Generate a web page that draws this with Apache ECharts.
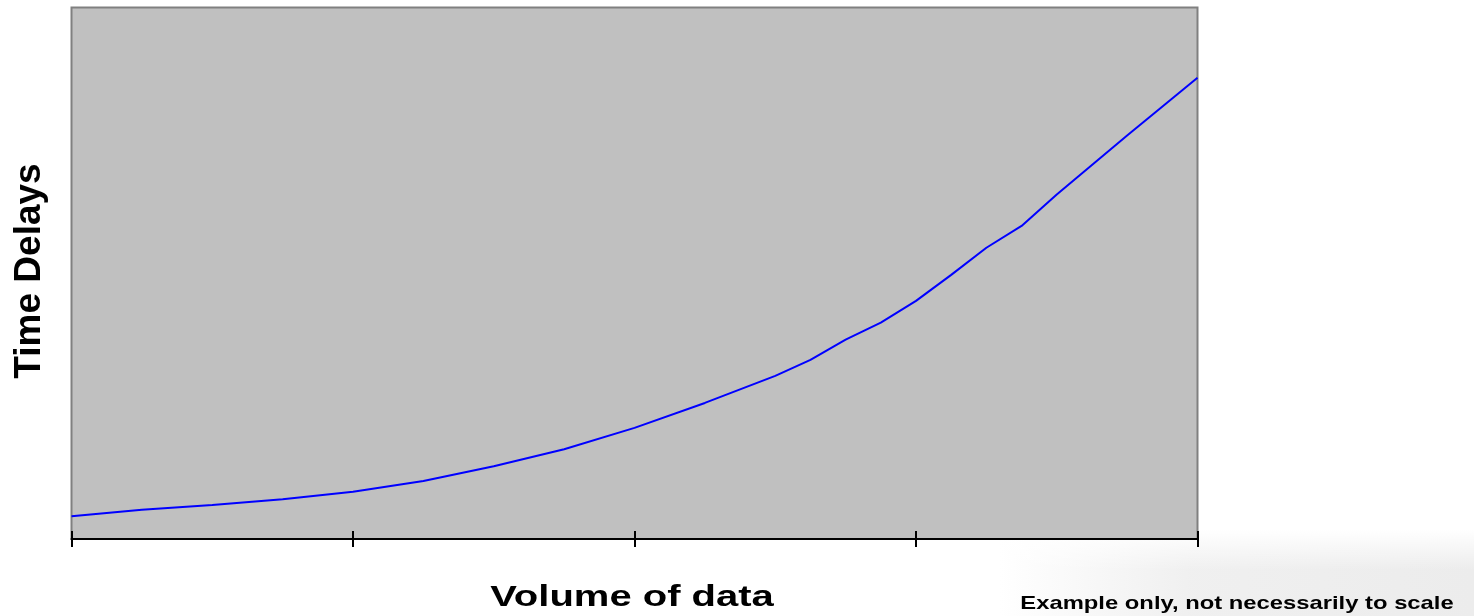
<!DOCTYPE html>
<html>
<head>
<meta charset="utf-8">
<script src="https://cdn.jsdelivr.net/npm/echarts@6/dist/echarts.min.js"></script>
<style>
html,body{margin:0;padding:0;background:#fff;}
#chart{width:1474px;height:616px;}
</style>
</head>
<body>
<div id="chart"></div>
<script>
// Data (x = volume step, y = relative delay)
const volumeX = [0, 1, 2, 3, 4, 5, 6, 7, 8, 9, 10, 10.5, 11, 11.5, 12, 12.5, 13, 13.5, 14, 15, 16];
const delayY  = [4.3, 5.5, 6.4, 7.5, 8.9, 10.9, 13.7, 16.9, 20.9, 25.6, 30.7, 33.7, 37.5, 40.7, 44.8, 49.7, 54.8, 58.9, 64.8, 75.9, 86.8];
const xTicks = [0, 4, 8, 12, 16];
const xTitle = 'Volume of data';
const yTitle = 'Time Delays';
const noteText = 'Example only, not necessarily to scale';

const seriesData = volumeX.map((x, i) => [x, delayY[i]]);

const chart = echarts.init(document.getElementById('chart'), null, {renderer: 'canvas'});
const font = '"Liberation Sans", Arial, Helvetica, sans-serif';

chart.setOption({
  animation: false,
  backgroundColor: '#ffffff',
  graphic: [
    {
      type: 'rect', z: -10, silent: true,
      shape: {x: 1000, y: 530, width: 474, height: 86},
      style: {
        fill: new echarts.graphic.LinearGradient(0, 0, 1, 0, [
          {offset: 0, color: 'rgba(238,238,238,0)'},
          {offset: 0.4, color: 'rgba(238,238,238,0.9)'},
          {offset: 1, color: 'rgba(236,236,236,1)'}
        ])
      }
    },
    {
      type: 'rect', z: -9, silent: true,
      shape: {x: 1000, y: 530, width: 474, height: 40},
      style: {
        fill: new echarts.graphic.LinearGradient(0, 0, 0, 1, [
          {offset: 0, color: 'rgba(255,255,255,1)'},
          {offset: 1, color: 'rgba(255,255,255,0)'}
        ])
      }
    },
    {
      type: 'text', silent: true,
      x: 632, y: 598, scaleY: 0.72,
      style: {
        text: xTitle, fill: '#000',
        font: 'bold 40px ' + font,
        textAlign: 'center', textVerticalAlign: 'middle'
      }
    },
    {
      type: 'text', silent: true,
      x: 30, y: 271, rotation: Math.PI / 2,
      style: {
        text: yTitle, fill: '#000',
        font: 'bold 37px ' + font,
        textAlign: 'center', textVerticalAlign: 'middle'
      }
    },
    {
      type: 'text', silent: true,
      x: 1237, y: 604, scaleY: 0.8,
      style: {
        text: noteText, fill: '#000',
        font: 'bold 23.8px ' + font,
        textAlign: 'center', textVerticalAlign: 'middle'
      }
    }
  ],
  grid: {
    left: 71.5, right: 276.5, top: 7.5, bottom: 77,
    show: true, backgroundColor: '#C0C0C0',
    borderColor: '#808080', borderWidth: 2
  },
  xAxis: [
    {
      type: 'value', min: xTicks[0], max: xTicks[xTicks.length - 1],
      interval: xTicks[1] - xTicks[0],
      axisLine: {show: true, onZero: false, lineStyle: {color: '#000', width: 2}},
      axisTick: {show: true, length: 8, lineStyle: {color: '#000', width: 2}},
      axisLabel: {show: false},
      splitLine: {show: false}
    },
    {
      type: 'value', position: 'bottom', min: xTicks[0], max: xTicks[xTicks.length - 1],
      interval: xTicks[1] - xTicks[0],
      axisLine: {show: false},
      axisTick: {show: true, inside: true, length: 8, lineStyle: {color: '#000', width: 2}},
      axisLabel: {show: false},
      splitLine: {show: false}
    }
  ],
  yAxis: {
    type: 'value', min: 0, max: 100,
    axisLine: {show: false}, axisTick: {show: false},
    axisLabel: {show: false}, splitLine: {show: false}
  },
  series: [{
    type: 'line',
    data: seriesData,
    showSymbol: false, symbol: 'none',
    smooth: false,
    lineStyle: {color: '#0000FF', width: 2},
    clip: true
  }]
});
</script>
</body>
</html>
